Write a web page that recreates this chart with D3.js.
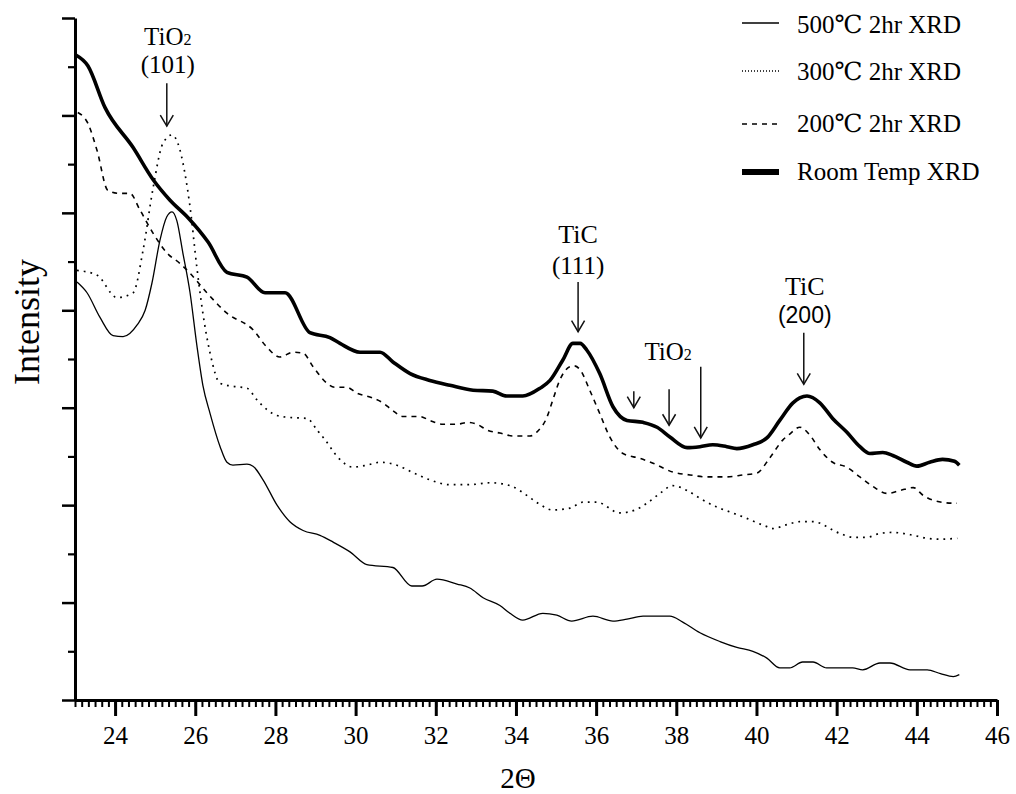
<!DOCTYPE html>
<html>
<head>
<meta charset="utf-8">
<script src="https://cdn.jsdelivr.net/npm/d3@7"></script>
<style>
  html, body { margin: 0; padding: 0; background: #fff; }
  svg { display: block; }
  text { font-family: "Liberation Serif", "DejaVu Serif", "Times New Roman", serif; fill: #000; }
</style>
</head>
<body>
<svg id="chart" width="1016" height="794"></svg>
<script>
// 2θ (degrees) vs. intensity (arbitrary units) for each anneal condition
const roomTemp = [[23.02,662],[23.32,651],[23.75,608],[24.45,567],[24.95,534],[25.37,513],[25.82,495],[26.32,470],[26.79,439],[27.29,434],[27.74,418],[28.24,418],[28.86,377],[29.36,372],[29.61,366],[30.11,357],[30.61,357],[30.93,347],[31.36,335],[31.85,328],[32.35,323],[32.93,318],[33.42,317],[33.77,312],[34.17,312],[34.60,320],[34.85,328],[35.17,349],[35.42,366],[35.60,366],[35.77,359],[36.09,335],[36.42,301],[36.77,287],[37.17,285],[37.52,280],[37.84,270],[38.27,259],[38.59,260],[38.91,262],[39.26,260],[39.51,258],[39.91,262],[40.26,269],[40.58,287],[40.91,305],[41.08,310],[41.26,312],[41.58,305],[41.90,289],[42.25,275],[42.58,260],[42.83,253],[43.15,254],[43.40,251],[43.75,244],[44.00,240],[44.32,244],[44.64,247],[44.94,245],[45.06,241]];

const anneal200 = [[23.07,603],[23.32,592],[23.55,564],[23.82,523],[24.12,520],[24.37,520],[24.62,503],[24.95,479],[25.29,459],[25.62,448],[25.87,438],[26.29,418],[26.79,397],[27.44,380],[27.79,362],[28.11,352],[28.44,357],[28.69,356],[28.94,342],[29.29,325],[29.48,321],[29.78,321],[30.03,315],[30.43,310],[30.68,305],[30.93,297],[31.18,291],[31.60,291],[31.85,287],[32.18,283],[32.53,283],[32.80,285],[33.03,283],[33.28,277],[33.60,274],[33.93,271],[34.35,271],[34.52,275],[34.77,290],[34.92,308],[35.09,328],[35.34,342],[35.45,343],[35.60,339],[35.84,318],[36.09,294],[36.34,270],[36.67,253],[37.09,248],[37.42,243],[37.91,234],[38.34,231],[38.76,229],[39.26,229],[39.66,231],[40.01,233],[40.34,249],[40.66,267],[40.83,273],[41.08,280],[41.33,272],[41.58,257],[41.90,244],[42.25,239],[42.58,229],[42.91,219],[43.26,212],[43.58,215],[43.91,218],[44.16,210],[44.41,205],[44.91,202],[45.00,202]];

const anneal300 = [[23.05,441],[23.55,436],[24.05,413],[24.45,418],[24.70,462],[24.95,526],[25.19,571],[25.42,580],[25.57,571],[25.74,541],[25.87,506],[26.04,444],[26.19,397],[26.37,356],[26.62,325],[26.94,322],[27.29,320],[27.54,308],[27.79,298],[28.04,292],[28.36,290],[28.79,289],[29.04,277],[29.24,267],[29.56,249],[29.93,239],[30.28,241],[30.61,244],[31.03,241],[31.40,234],[31.85,226],[32.35,221],[32.85,221],[33.35,223],[33.77,221],[33.92,219],[34.27,210],[34.55,202],[34.92,195],[35.35,197],[35.67,203],[36.02,203],[36.59,192],[36.97,195],[37.27,202],[37.59,212],[37.91,220],[38.27,215],[38.59,207],[39.01,198],[39.34,193],[39.66,188],[40.26,178],[40.41,176],[40.76,180],[41.08,183],[41.41,183],[42.08,171],[42.41,167],[42.76,167],[43.08,171],[43.40,172],[43.65,171],[43.91,169],[44.26,166],[44.59,165],[45.01,166]];

const anneal500 = [[23.05,429],[23.30,418],[23.62,393],[23.95,374],[24.20,373],[24.55,385],[24.75,400],[24.92,428],[25.12,472],[25.29,496],[25.42,501],[25.54,492],[25.69,459],[25.87,418],[26.04,364],[26.19,323],[26.37,294],[26.62,260],[26.79,244],[26.94,241],[27.29,242],[27.44,240],[27.69,226],[28.04,200],[28.36,183],[28.69,174],[29.11,169],[29.44,162],[29.86,152],[30.28,139],[30.93,136],[31.40,117],[31.66,117],[32.03,124],[32.53,119],[32.85,115],[33.18,105],[33.60,97],[33.85,89],[34.17,82],[34.67,89],[35.02,87],[35.39,81],[35.92,86],[36.42,81],[36.77,83],[37.17,86],[37.84,86],[38.16,80],[38.59,69],[39.09,60],[39.51,54],[39.91,50],[40.26,43],[40.58,33],[40.83,33],[41.15,39],[41.41,39],[41.75,33],[42.40,33],[42.65,31],[43.08,38],[43.33,38],[43.83,31],[44.26,31],[44.59,27],[44.91,24],[45.06,26]];

// Axis ticks
const xTickValues = [24, 26, 28, 30, 32, 34, 36, 38, 40, 42, 44, 46];
const yMajorTicks = [0, 100, 200, 300, 400, 500, 600, 700];

// Legend labels, top to bottom
const legendLabels = ["500\u2103 2hr XRD", "300\u2103 2hr XRD", "200\u2103 2hr XRD", "Room Temp XRD"];

// Peak markers: 2θ position, arrow tip / tail intensity
const peakX    = [25.29, 35.55, 36.94, 37.82, 38.61, 41.18];
const peakTip  = [589, 378, 300, 282, 269, 324];
const peakTail = [633, 429, 317, 319, 342, 377];

const svg = d3.select("#chart");
const margin = { left: 75, right: 997, top: 18, bottom: 700 };

const x = d3.scaleLinear().domain([23, 46]).range([margin.left, margin.right]);
const y = d3.scaleLinear().domain([0, 700]).range([margin.bottom, margin.top]);

svg.append("rect").attr("width", 1016).attr("height", 794).attr("fill", "#fff");

// ---- curves ----
const line = d3.line()
  .x(d => x(d[0]))
  .y(d => y(d[1]))
  .curve(d3.curveMonotoneX);

const series = [
  { data: anneal500, width: 1.3, dash: null },
  { data: anneal300, width: 1.7, dash: "1.8,5" },
  { data: anneal200, width: 1.6, dash: "5,5" },
  { data: roomTemp,  width: 3.6, dash: null }
];

const gLines = svg.append("g");
series.forEach(s => {
  gLines.append("path")
    .datum(s.data)
    .attr("d", line)
    .attr("fill", "none")
    .attr("stroke", "#000")
    .attr("stroke-width", s.width)
    .attr("stroke-linejoin", "round")
    .attr("stroke-dasharray", s.dash);
});

// ---- axes ----
const xMinor = d3.range(0, 139).map(i => 23 + i / 6).filter(v => v <= 46.001);
const gxMinor = svg.append("g").attr("transform", `translate(0,${margin.bottom})`)
  .call(d3.axisBottom(x).tickValues(xMinor).tickSize(7).tickSizeOuter(0).tickFormat(""));
gxMinor.select(".domain").remove();
gxMinor.selectAll("line").attr("stroke", "#000").attr("stroke-width", 2);

const gx = svg.append("g").attr("transform", `translate(0,${margin.bottom})`)
  .call(d3.axisBottom(x).tickValues(xTickValues).tickSize(16).tickSizeOuter(0).tickFormat(d3.format("d")));
gx.select(".domain").attr("stroke", "#000").attr("stroke-width", 3);
gx.selectAll(".tick line").attr("stroke", "#000").attr("stroke-width", 3);
gx.selectAll(".tick text")
  .attr("dy", null).attr("y", 44)
  .attr("fill", "#000")
  .style("font-family", "'Liberation Serif', 'Times New Roman', serif")
  .style("font-size", "25px");

const yMinor = d3.range(50, 700, 100);
const gyMinor = svg.append("g").attr("transform", `translate(${margin.left},0)`)
  .call(d3.axisLeft(y).tickValues(yMinor).tickSize(7).tickSizeOuter(0).tickFormat(""));
gyMinor.select(".domain").remove();
gyMinor.selectAll("line").attr("stroke", "#000").attr("stroke-width", 2.2);

const gy = svg.append("g").attr("transform", `translate(${margin.left},0)`)
  .call(d3.axisLeft(y).tickValues(yMajorTicks).tickSize(13).tickSizeOuter(0).tickFormat(""));
gy.select(".domain").attr("stroke", "#000").attr("stroke-width", 3);
gy.selectAll(".tick line").attr("stroke", "#000").attr("stroke-width", 2.5);

// ---- axis titles ----
svg.append("text")
  .attr("x", 518).attr("y", 788)
  .attr("text-anchor", "middle")
  .style("font-size", "29px")
  .text("2\u0398");

svg.append("text")
  .attr("transform", "translate(39,322) rotate(-90)")
  .attr("text-anchor", "middle")
  .style("font-size", "36px")
  .text("Intensity");

// ---- peak markers ----
const gAnn = svg.append("g").attr("stroke", "#111").attr("stroke-width", 1.5).attr("fill", "none");
peakX.forEach((px, i) => {
  const cx = x(px), yTip = y(peakTip[i]), yTail = y(peakTail[i]);
  gAnn.append("line").attr("x1", cx).attr("x2", cx).attr("y1", yTail).attr("y2", yTip);
  gAnn.append("path").attr("d", `M${cx - 6.5},${yTip - 11}L${cx},${yTip}L${cx + 6.5},${yTip - 11}`);
});

function phase(g, cx, yb, base, sub, size) {
  const t = g.append("text").attr("x", cx).attr("y", yb)
    .attr("text-anchor", "middle").style("font-size", size + "px");
  t.append("tspan").text(base);
  if (sub) t.append("tspan").style("font-size", Math.round(size * 0.62) + "px").text(sub);
  return t;
}

const gLbl = svg.append("g");
// TiO2 (101)
phase(gLbl, x(peakX[0]) + 1, y(peakTail[0]) - 38, "TiO", "2", 25);
gLbl.append("text").attr("x", x(peakX[0]) + 1).attr("y", y(peakTail[0]) - 10)
  .attr("text-anchor", "middle").style("font-size", "25px").text("(101)");
// TiC (111)
phase(gLbl, x(peakX[1]), y(peakTail[1]) - 39, "TiC", null, 26);
gLbl.append("text").attr("x", x(peakX[1])).attr("y", y(peakTail[1]) - 8)
  .attr("text-anchor", "middle").style("font-size", "25px").text("(111)");
// TiO2 above the 37.8° marker
phase(gLbl, x(peakX[3]) - 1, y(peakTail[3]) - 29, "TiO", "2", 25);
// TiC (200)
phase(gLbl, x(peakX[5]) + 1, y(peakTail[5]) - 38, "TiC", null, 26);
gLbl.append("text").attr("x", x(peakX[5]) + 1).attr("y", y(peakTail[5]) - 10)
  .attr("text-anchor", "middle")
  .style("font-family", "'Liberation Sans', Arial, sans-serif")
  .style("font-size", "23px").text("(200)");

// ---- legend ----
const legendStyle = [
  { w: 1.3, dash: null,  ly: 23,  ty: 33 },
  { w: 1.5, dash: "1,2", ly: 71,  ty: 80 },
  { w: 1.5, dash: "5,5", ly: 124, ty: 132 },
  { w: 6,   dash: null,  ly: 172, ty: 180 }
];
const gLeg = svg.append("g");
legendLabels.forEach((lab, i) => {
  const s = legendStyle[i];
  gLeg.append("line")
    .attr("x1", 742).attr("x2", 779).attr("y1", s.ly).attr("y2", s.ly)
    .attr("stroke", "#000").attr("stroke-width", s.w)
    .attr("stroke-dasharray", s.dash);
  gLeg.append("text").attr("x", 797).attr("y", s.ty)
    .style("font-size", "25px").text(lab);
});
</script>
</body>
</html>
